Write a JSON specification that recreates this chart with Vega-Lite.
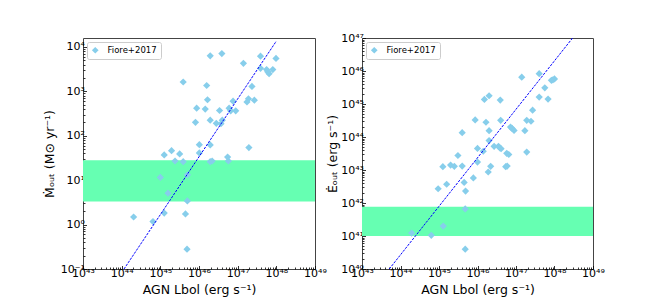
{
  "$schema": "https://vega.github.io/schema/vega-lite/v6.json",
  "background": "white",
  "padding": {"left": 42, "top": 31, "right": 5, "bottom": 5},
  "config": {
    "font": "DejaVu Sans",
    "view": {"stroke": "#444444", "strokeWidth": 1},
    "axis": {
      "domain": false, "grid": false,
      "labelFont": "DejaVu Sans", "labelFontSize": 11, "labelColor": "black",
      "titleFont": "DejaVu Sans", "titleFontSize": 12.5, "titleFontWeight": "normal", "titleColor": "black",
      "tickColor": "black", "tickWidth": 0.8,
      "labelOverlap": false, "labelFlush": false, "labelBound": false, "labelPadding": 2
    },
    "legend": {
      "orient": "top-left", "offset": 4, "strokeColor": "#cccccc", "fillColor": "white",
      "padding": 4, "cornerRadius": 2, "symbolType": "diamond", "symbolSize": 45,
      "labelFontSize": 8.5, "labelFont": "DejaVu Sans", "labelColor": "black", "labelOffset": 8, "symbolStrokeWidth": 0
    }
  },
  "datasets": {
    "mdot": [
      {"L": 2.04e44, "M": 1.48}, {"L": 6.46e44, "M": 1.17}, {"L": 1.0e45, "M": 11.5}, {"L": 1.26e45, "M": 37},
      {"L": 1.26e45, "M": 1.82}, {"L": 1.58e45, "M": 5.1}, {"L": 1.95e45, "M": 46}, {"L": 2.4e45, "M": 27},
      {"L": 3.16e45, "M": 39}, {"L": 3.9e45, "M": 26}, {"L": 3.9e45, "M": 1620}, {"L": 4.47e45, "M": 1.74},
      {"L": 5.0e45, "M": 13.2}, {"L": 5.0e45, "M": 3.4}, {"L": 4.9e45, "M": 0.28}, {"L": 8.1e45, "M": 200},
      {"L": 8.7e45, "M": 417}, {"L": 1.02e46, "M": 63}, {"L": 1.02e46, "M": 41}, {"L": 1.45e46, "M": 398},
      {"L": 1.58e46, "M": 1350}, {"L": 1.66e46, "M": 646}, {"L": 1.95e46, "M": 6300}, {"L": 1.95e46, "M": 224},
      {"L": 1.95e46, "M": 62}, {"L": 1.95e46, "M": 26}, {"L": 2.19e46, "M": 27}, {"L": 2.8e46, "M": 190},
      {"L": 3.4e46, "M": 370}, {"L": 3.7e46, "M": 186}, {"L": 3.9e46, "M": 7080}, {"L": 4.0e46, "M": 224},
      {"L": 5.5e46, "M": 33}, {"L": 5.75e46, "M": 27}, {"L": 6.0e46, "M": 417}, {"L": 6.6e46, "M": 363},
      {"L": 7.6e46, "M": 600}, {"L": 8.9e46, "M": 363}, {"L": 1.41e47, "M": 4270}, {"L": 1.74e47, "M": 575},
      {"L": 1.9e47, "M": 676}, {"L": 1.95e47, "M": 54}, {"L": 2.34e47, "M": 1290}, {"L": 2.7e47, "M": 630},
      {"L": 3.9e47, "M": 6170}, {"L": 3.9e47, "M": 3300}, {"L": 5.6e47, "M": 3090}, {"L": 6.0e47, "M": 2750},
      {"L": 6.5e47, "M": 2500}, {"L": 8.1e47, "M": 3090}, {"L": 9.8e47, "M": 5500}
    ],
    "edot": [
      {"L": 1.95e44, "E": 1.23e41}, {"L": 6.3e44, "E": 1.05e41}, {"L": 9.5e44, "E": 2.7e42}, {"L": 1.26e45, "E": 1.26e43},
      {"L": 1.29e45, "E": 2.0e41}, {"L": 1.58e45, "E": 3.7e42}, {"L": 2.0e45, "E": 1.41e43}, {"L": 2.5e45, "E": 1.29e43},
      {"L": 3.1e45, "E": 2.75e43}, {"L": 4.0e45, "E": 1.35e44}, {"L": 4.0e45, "E": 1.32e43}, {"L": 4.5e45, "E": 4.2e42},
      {"L": 4.9e45, "E": 2.3e42}, {"L": 4.8e45, "E": 6.6e41}, {"L": 4.8e45, "E": 4.0e40}, {"L": 7.8e45, "E": 5.75e42},
      {"L": 8.7e45, "E": 3.3e44}, {"L": 1.0e46, "E": 4.5e43}, {"L": 1.0e46, "E": 1.74e43}, {"L": 1.41e46, "E": 3.7e43},
      {"L": 1.51e46, "E": 1.38e45}, {"L": 1.66e46, "E": 2.8e44}, {"L": 1.9e46, "E": 8.7e42}, {"L": 2.0e46, "E": 1.78e45},
      {"L": 2.0e46, "E": 1.55e44}, {"L": 2.0e46, "E": 7.8e43}, {"L": 2.2e46, "E": 1.29e43}, {"L": 2.7e46, "E": 5.2e43},
      {"L": 3.5e46, "E": 5.2e43}, {"L": 3.8e46, "E": 4.7e43}, {"L": 3.9e46, "E": 1.32e45}, {"L": 4.0e46, "E": 3.2e44},
      {"L": 4.1e46, "E": 4.4e43}, {"L": 5.4e46, "E": 1.26e43}, {"L": 5.75e46, "E": 3.2e43}, {"L": 5.9e46, "E": 1.32e43},
      {"L": 6.5e46, "E": 2.95e43}, {"L": 7.2e46, "E": 2.0e44}, {"L": 7.9e46, "E": 1.82e44}, {"L": 8.9e46, "E": 1.58e44},
      {"L": 1.41e47, "E": 6.5e45}, {"L": 1.7e47, "E": 1.55e44}, {"L": 1.9e47, "E": 3.2e44}, {"L": 1.9e47, "E": 3.5e43},
      {"L": 2.45e47, "E": 3.0e44}, {"L": 2.7e47, "E": 6.5e44}, {"L": 4.0e47, "E": 8.3e45}, {"L": 4.0e47, "E": 1.62e45},
      {"L": 5.6e47, "E": 3.1e45}, {"L": 6.8e47, "E": 1.41e45}, {"L": 8.3e47, "E": 5.2e45}, {"L": 9.1e47, "E": 5.4e45},
      {"L": 1.0e48, "E": 5.75e45}
    ]
  },
  "spacing": 47,
  "bounds": "flush",
  "hconcat": [
    {
      "width": 232, "height": 231,
      "layer": [
        {
          "data": {"values": [{"xlo": 1e43, "xhi": 1e49, "ylo": 3.3, "yhi": 28}]},
          "mark": {"type": "rect", "color": "#66FFB2"},
          "encoding": {
            "x": {"field": "xlo", "type": "quantitative",
              "scale": {"type": "log", "domain": [1e43, 1e49], "nice": false},
              "axis": {
                "title": "AGN Lbol (erg s⁻¹)", "titlePadding": 3,
                "values": [1e43,2e43,3e43,4e43,5e43,6e43,7e43,8e43,9e43,1e44,2e44,3e44,4e44,5e44,6e44,7e44,8e44,9e44,1e45,2e45,3e45,4e45,5e45,6e45,7e45,8e45,9e45,1e46,2e46,3e46,4e46,5e46,6e46,7e46,8e46,9e46,1e47,2e47,3e47,4e47,5e47,6e47,7e47,8e47,9e47,1e48,2e48,3e48,4e48,5e48,6e48,7e48,8e48,9e48,1e49],
                "labelExpr": "abs(log(datum.value)/LN10 - round(log(datum.value)/LN10)) > 0.001 ? '' : '10' + (round(log(datum.value)/LN10) < 0 ? '⁻' : '') + (abs(round(log(datum.value)/LN10)) >= 10 ? substring('⁰¹²³⁴⁵⁶⁷⁸⁹', floor(abs(round(log(datum.value)/LN10))/10), floor(abs(round(log(datum.value)/LN10))/10) + 1) : '') + substring('⁰¹²³⁴⁵⁶⁷⁸⁹', abs(round(log(datum.value)/LN10)) % 10, abs(round(log(datum.value)/LN10)) % 10 + 1)",
                "tickSize": {"condition": {"test": "abs(log(datum.value)/LN10 - round(log(datum.value)/LN10)) < 0.001", "value": -3.5}, "value": -2}
              }
            },
            "x2": {"field": "xhi"},
            "y": {"field": "ylo", "type": "quantitative",
              "scale": {"type": "log", "domain": [0.1, 15849], "nice": false},
              "axis": {
                "title": "Ṁₒᵤₜ (M⊙ yr⁻¹)", "titlePadding": 4,
                "values": [0.1,0.2,0.3,0.4,0.5,0.6,0.7,0.8,0.9,1,2,3,4,5,6,7,8,9,10,20,30,40,50,60,70,80,90,100,200,300,400,500,600,700,800,900,1000,2000,3000,4000,5000,6000,7000,8000,9000,10000],
                "labelExpr": "abs(log(datum.value)/LN10 - round(log(datum.value)/LN10)) > 0.001 ? '' : '10' + (round(log(datum.value)/LN10) < 0 ? '⁻' : '') + (abs(round(log(datum.value)/LN10)) >= 10 ? substring('⁰¹²³⁴⁵⁶⁷⁸⁹', floor(abs(round(log(datum.value)/LN10))/10), floor(abs(round(log(datum.value)/LN10))/10) + 1) : '') + substring('⁰¹²³⁴⁵⁶⁷⁸⁹', abs(round(log(datum.value)/LN10)) % 10, abs(round(log(datum.value)/LN10)) % 10 + 1)",
                "tickSize": {"condition": {"test": "abs(log(datum.value)/LN10 - round(log(datum.value)/LN10)) < 0.001", "value": -3.5}, "value": -2}
              }
            },
            "y2": {"field": "yhi"}
          }
        },
        {
          "data": {"name": "mdot"},
          "mark": {"type": "point", "shape": "diamond", "filled": true, "size": 52, "opacity": 1},
          "encoding": {
            "x": {"field": "L", "type": "quantitative"},
            "y": {"field": "M", "type": "quantitative"},
            "color": {"datum": "Fiore+2017", "type": "nominal", "scale": {"range": ["#87CEEB"]}, "legend": {"title": null}}
          }
        },
        {
          "data": {"values": [{"L": 1.15e44, "M": 0.1}, {"L": 1e48, "M": 13500}]},
          "mark": {"type": "line", "color": "#0000FF", "strokeWidth": 1, "strokeDash": [2.5, 1.2]},
          "encoding": {
            "x": {"field": "L", "type": "quantitative"},
            "y": {"field": "M", "type": "quantitative"}
          }
        }
      ]
    },
    {
      "width": 231, "height": 231,
      "layer": [
        {
          "data": {"values": [{"xlo": 1e43, "xhi": 1e49, "ylo": 1e41, "yhi": 7.7e41}]},
          "mark": {"type": "rect", "color": "#66FFB2"},
          "encoding": {
            "x": {"field": "xlo", "type": "quantitative",
              "scale": {"type": "log", "domain": [1e43, 1e49], "nice": false},
              "axis": {
                "title": "AGN Lbol (erg s⁻¹)", "titlePadding": 3,
                "values": [1e43,2e43,3e43,4e43,5e43,6e43,7e43,8e43,9e43,1e44,2e44,3e44,4e44,5e44,6e44,7e44,8e44,9e44,1e45,2e45,3e45,4e45,5e45,6e45,7e45,8e45,9e45,1e46,2e46,3e46,4e46,5e46,6e46,7e46,8e46,9e46,1e47,2e47,3e47,4e47,5e47,6e47,7e47,8e47,9e47,1e48,2e48,3e48,4e48,5e48,6e48,7e48,8e48,9e48,1e49],
                "labelExpr": "abs(log(datum.value)/LN10 - round(log(datum.value)/LN10)) > 0.001 ? '' : '10' + (round(log(datum.value)/LN10) < 0 ? '⁻' : '') + (abs(round(log(datum.value)/LN10)) >= 10 ? substring('⁰¹²³⁴⁵⁶⁷⁸⁹', floor(abs(round(log(datum.value)/LN10))/10), floor(abs(round(log(datum.value)/LN10))/10) + 1) : '') + substring('⁰¹²³⁴⁵⁶⁷⁸⁹', abs(round(log(datum.value)/LN10)) % 10, abs(round(log(datum.value)/LN10)) % 10 + 1)",
                "tickSize": {"condition": {"test": "abs(log(datum.value)/LN10 - round(log(datum.value)/LN10)) < 0.001", "value": -3.5}, "value": -2}
              }
            },
            "x2": {"field": "xhi"},
            "y": {"field": "ylo", "type": "quantitative",
              "scale": {"type": "log", "domain": [1e40, 1e47], "nice": false},
              "axis": {
                "title": "Ėₒᵤₜ (erg s⁻¹)", "titlePadding": 1,
                "values": [1e40,2e40,3e40,4e40,5e40,6e40,7e40,8e40,9e40,1e41,2e41,3e41,4e41,5e41,6e41,7e41,8e41,9e41,1e42,2e42,3e42,4e42,5e42,6e42,7e42,8e42,9e42,1e43,2e43,3e43,4e43,5e43,6e43,7e43,8e43,9e43,1e44,2e44,3e44,4e44,5e44,6e44,7e44,8e44,9e44,1e45,2e45,3e45,4e45,5e45,6e45,7e45,8e45,9e45,1e46,2e46,3e46,4e46,5e46,6e46,7e46,8e46,9e46,1e47],
                "labelExpr": "abs(log(datum.value)/LN10 - round(log(datum.value)/LN10)) > 0.001 ? '' : '10' + (round(log(datum.value)/LN10) < 0 ? '⁻' : '') + (abs(round(log(datum.value)/LN10)) >= 10 ? substring('⁰¹²³⁴⁵⁶⁷⁸⁹', floor(abs(round(log(datum.value)/LN10))/10), floor(abs(round(log(datum.value)/LN10))/10) + 1) : '') + substring('⁰¹²³⁴⁵⁶⁷⁸⁹', abs(round(log(datum.value)/LN10)) % 10, abs(round(log(datum.value)/LN10)) % 10 + 1)",
                "tickSize": {"condition": {"test": "abs(log(datum.value)/LN10 - round(log(datum.value)/LN10)) < 0.001", "value": -3.5}, "value": -2}
              }
            },
            "y2": {"field": "yhi"}
          }
        },
        {
          "data": {"name": "edot"},
          "mark": {"type": "point", "shape": "diamond", "filled": true, "size": 52, "opacity": 1},
          "encoding": {
            "x": {"field": "L", "type": "quantitative"},
            "y": {"field": "E", "type": "quantitative"},
            "color": {"datum": "Fiore+2017", "type": "nominal", "scale": {"range": ["#87CEEB"]}, "legend": {"title": null}}
          }
        },
        {
          "data": {"values": [{"L": 5.1e43, "E": 1e40}, {"L": 2.95e48, "E": 1e47}]},
          "mark": {"type": "line", "color": "#0000FF", "strokeWidth": 1, "strokeDash": [2.5, 1.2]},
          "encoding": {
            "x": {"field": "L", "type": "quantitative"},
            "y": {"field": "E", "type": "quantitative"}
          }
        }
      ]
    }
  ],
  "resolve": {"scale": {"color": "independent"}, "legend": {"color": "independent"}}
}
